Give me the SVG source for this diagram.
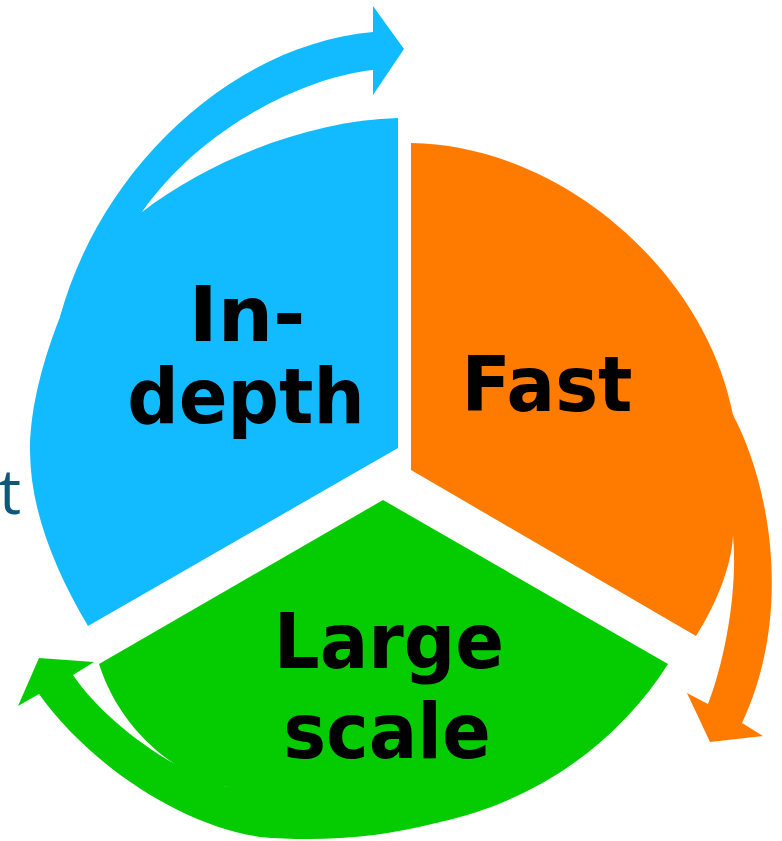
<svg xmlns="http://www.w3.org/2000/svg" width="782" height="841" viewBox="0 0 782 841">
<style>
.blue{fill:#12BAFF}
.orange{fill:#FF7B00}
.green{fill:#05CC00}
.lbl{font-family:"DejaVu Sans",Verdana,sans-serif;font-weight:bold;font-size:72px;fill:#000;text-anchor:middle}
.side{font-family:"Open Sans","DejaVu Sans",sans-serif;font-size:62px;fill:#0B5878;text-anchor:end}
</style>
<rect width="782" height="841" fill="#fff"/>
<text class="side" x="21" y="514">t</text>
<g id="node-indepth">
<path class="blue" d="M398,118 L398,448 L88,626 C55,570 30,510 30,450 C30,405 45,355 60,317 C75,270 105,235 142,212 C210,160 310,120 398,118 Z"/>
<text class="lbl" transform="translate(247,341) scale(1.08,1.06)">In-</text>
<text class="lbl" transform="translate(246,423) scale(1,1.06)">depth</text>
</g>
<g id="node-fast">
<path class="orange" d="M411,143 C560,145 705,270 733,415 C745,450 748,500 733,535 C732,565 716,605 696,636 L411,470 Z"/>
<text class="lbl" transform="translate(547,411) scale(1,1.06)">Fast</text>
</g>
<g id="node-largescale">
<path class="green" d="M383,500 L668,664 C620,740 540,800 440,822 C370,835 290,820 227,787 C175,775 120,730 99,664 Z"/>
<text class="lbl" transform="translate(389,668) scale(1,1.06)">Large</text>
<text class="lbl" transform="translate(387,758) scale(1,1.06)">scale</text>
</g>
<g id="connectors">
<path class="blue" d="M60,317 C100,170 230,45 373,32 L373,6 L404,49 L373,95 L373,70 C300,78 200,130 142,212 Q110,280 60,317 Z"/>
<path class="orange" d="M733,415 C768,480 795,610 742,723 L763,736 L710,742 L687,693 L708,704 C725,660 738,590 733,535 C720,500 720,450 733,415 Z"/>
<path class="green" d="M440,822 C380,838 320,842 260,837 C180,825 90,765 39,694 L18,706 L39,658 L94,662 L73,675 C100,715 160,765 227,787 C300,790 380,800 440,822 Z"/>
</g>
</svg>
